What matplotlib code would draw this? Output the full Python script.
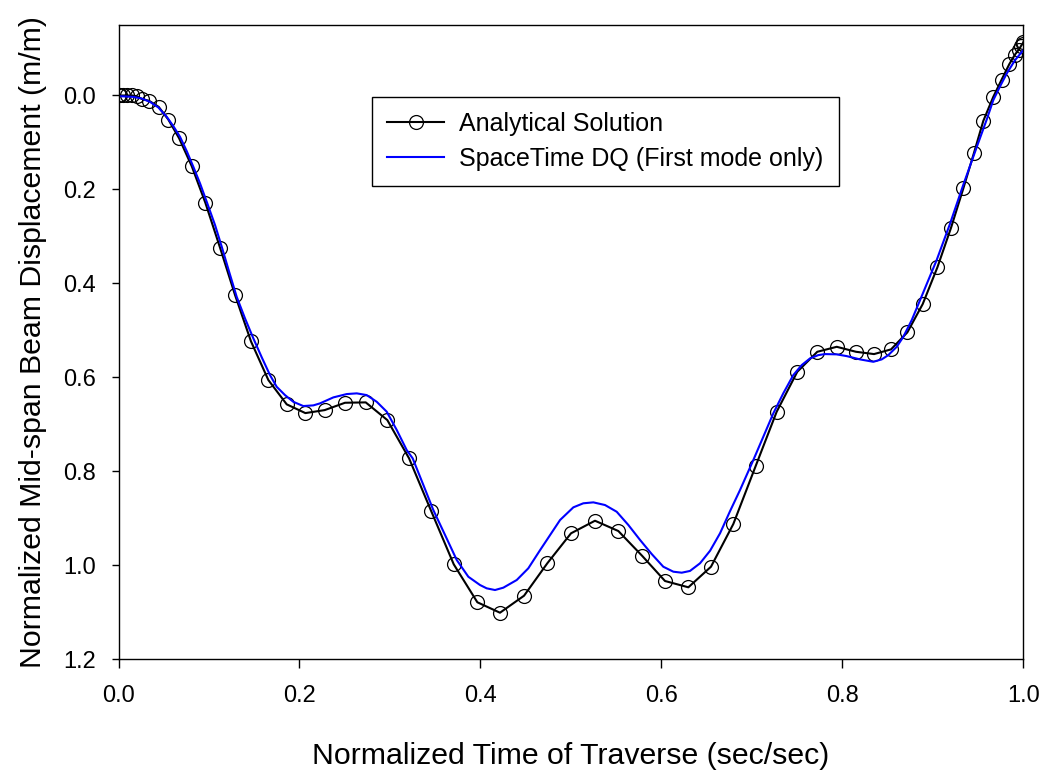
import numpy as np
import matplotlib
matplotlib.use("Agg")
import matplotlib.pyplot as plt

plt.rcParams['font.family'] = ['Liberation Sans', 'DejaVu Sans']

# Analytical solution (markers)
t_exact = [0.0, 0.0017, 0.0053, 0.0097, 0.0149, 0.0201, 0.0256, 0.034, 0.0444, 0.055,
           0.0669, 0.0809, 0.0959, 0.1122, 0.1288, 0.1464, 0.1656, 0.1859, 0.2065, 0.2279,
           0.2503, 0.2732, 0.2971, 0.3211, 0.3454, 0.3705, 0.3966, 0.4216, 0.4482, 0.4739,
           0.5001, 0.5266, 0.5524, 0.5789, 0.604, 0.6298, 0.6548, 0.6795, 0.7042, 0.7274,
           0.7502, 0.7723, 0.7938, 0.8151, 0.835, 0.8538, 0.8718, 0.8888, 0.905, 0.9201,
           0.9337, 0.9455, 0.9558, 0.9668, 0.9761, 0.9845, 0.9908, 0.9952, 0.9975, 0.9993, 1.0]
w_exact = [0.0, 0.0, 0.0, 0.0, 0.0, 0.0015, 0.0072, 0.0115, 0.0243, 0.0511,
           0.0909, 0.1504, 0.228, 0.324, 0.4249, 0.5234, 0.6057, 0.6574, 0.676, 0.6696,
           0.654, 0.6532, 0.6909, 0.7723, 0.8838, 0.9979, 1.0787, 1.1009, 1.0647, 0.9957,
           0.9319, 0.9051, 0.927, 0.9802, 1.0334, 1.0468, 1.003, 0.9121, 0.7887, 0.6732,
           0.5881, 0.5455, 0.5349, 0.5455, 0.5504, 0.5404, 0.5043, 0.444, 0.366, 0.2817,
           0.1979, 0.1221, 0.054, 0.003, -0.034, -0.0666, -0.0872, -0.0979, -0.1055, -0.1106, -0.1134]

# SpaceTime DQ, first mode only
t_dq = [0.0, 0.0017, 0.0164, 0.0256, 0.0348, 0.044, 0.0533, 0.0606, 0.068, 0.0754,
        0.0827, 0.0901, 0.0975, 0.1067, 0.1141, 0.1222, 0.1306, 0.1398, 0.149, 0.1583,
        0.1674, 0.1748, 0.184, 0.1932, 0.2042, 0.2153, 0.2227, 0.2374, 0.2522, 0.2633,
        0.2743, 0.2854, 0.2964, 0.3075, 0.3185, 0.3251, 0.3369, 0.3479, 0.3609, 0.3738,
        0.3866, 0.3995, 0.4069, 0.4161, 0.4253, 0.4401, 0.4529, 0.4658, 0.488, 0.5027,
        0.5137, 0.5248, 0.5377, 0.5506, 0.5634, 0.5764, 0.5893, 0.6021, 0.6132, 0.6225,
        0.6316, 0.6427, 0.6538, 0.6648, 0.6758, 0.6869, 0.7016, 0.7237, 0.7347, 0.7458,
        0.7551, 0.7643, 0.7734, 0.7808, 0.7937, 0.8048, 0.8195, 0.8342, 0.8435, 0.8508,
        0.8601, 0.8674, 0.8767, 0.8858, 0.9043, 0.919, 0.9337, 0.9485, 0.9596, 0.9668,
        0.974, 0.9817, 0.9908, 1.0]
w_dq = [0.0, 0.0015, 0.003, 0.0064, 0.0136, 0.0255, 0.0455, 0.0653, 0.0881, 0.1185,
        0.1519, 0.1872, 0.2264, 0.276, 0.3221, 0.375, 0.4285, 0.4745, 0.517, 0.5574,
        0.5951, 0.62, 0.6377, 0.652, 0.661, 0.6596, 0.6553, 0.6426, 0.6355, 0.634,
        0.6377, 0.652, 0.673, 0.712, 0.7547, 0.7723, 0.829, 0.8823, 0.9355, 0.9887,
        1.0243, 1.0419, 1.049, 1.0526, 1.0476, 1.0313, 1.0064, 0.968, 0.9036, 0.8766,
        0.868, 0.866, 0.8717, 0.886, 0.914, 0.946, 0.976, 1.003, 1.0136, 1.0157,
        1.012, 0.9957, 0.969, 0.9319, 0.885, 0.8398, 0.776, 0.6766, 0.634, 0.5951,
        0.5738, 0.5596, 0.5526, 0.5504, 0.551, 0.5547, 0.5617, 0.5668, 0.5617, 0.5526,
        0.5349, 0.5136, 0.478, 0.436, 0.35, 0.273, 0.19, 0.11, 0.051, 0.01,
        -0.0183, -0.0468, -0.0751, -0.0964]

fig = plt.figure(figsize=(10.49, 7.7), dpi=100)
ax = fig.add_axes([0.113, 0.1438, 0.8625, 0.8237])

ax.plot(t_exact, w_exact, color='black', linewidth=1.5, marker='o', markersize=10,
        markerfacecolor='none', markeredgecolor='black', markeredgewidth=0.9,
        label="Analytical Solution")
ax.plot(t_dq, w_dq, color='#0000ff', linewidth=1.5, label="SpaceTime DQ (First mode only)")

ax.set_xlim(0, 1.0)
ax.set_ylim(1.2, -0.15)
ax.set_xticks(np.linspace(0, 1.0, 6))
ax.set_yticks(np.linspace(0, 1.2, 7))
ax.xaxis.set_major_formatter(matplotlib.ticker.FormatStrFormatter('%.1f'))
ax.yaxis.set_major_formatter(matplotlib.ticker.FormatStrFormatter('%.1f'))
ax.tick_params(axis='both', direction='out', labelsize=17, width=1.0)
ax.tick_params(axis='x', length=6.5, pad=12)
ax.tick_params(axis='y', length=5, pad=11)
for s in ax.spines.values():
    s.set_linewidth(1.0)

ax.set_xlabel("Normalized Time of Traverse (sec/sec)", fontsize=21.8, labelpad=25)
ax.set_ylabel("Normalized Mid-span Beam Displacement (m/m)", fontsize=21.8, labelpad=12)

leg = ax.legend(loc='upper left', bbox_to_anchor=(0.28, 0.887), fontsize=18, numpoints=1,
                fancybox=False, framealpha=1, edgecolor='black', handlelength=2.3,
                handletextpad=0.6, borderpad=0.6, labelspacing=0.45, borderaxespad=0)
leg.get_frame().set_linewidth(1.0)

fig.savefig("out.png", dpi=100)
